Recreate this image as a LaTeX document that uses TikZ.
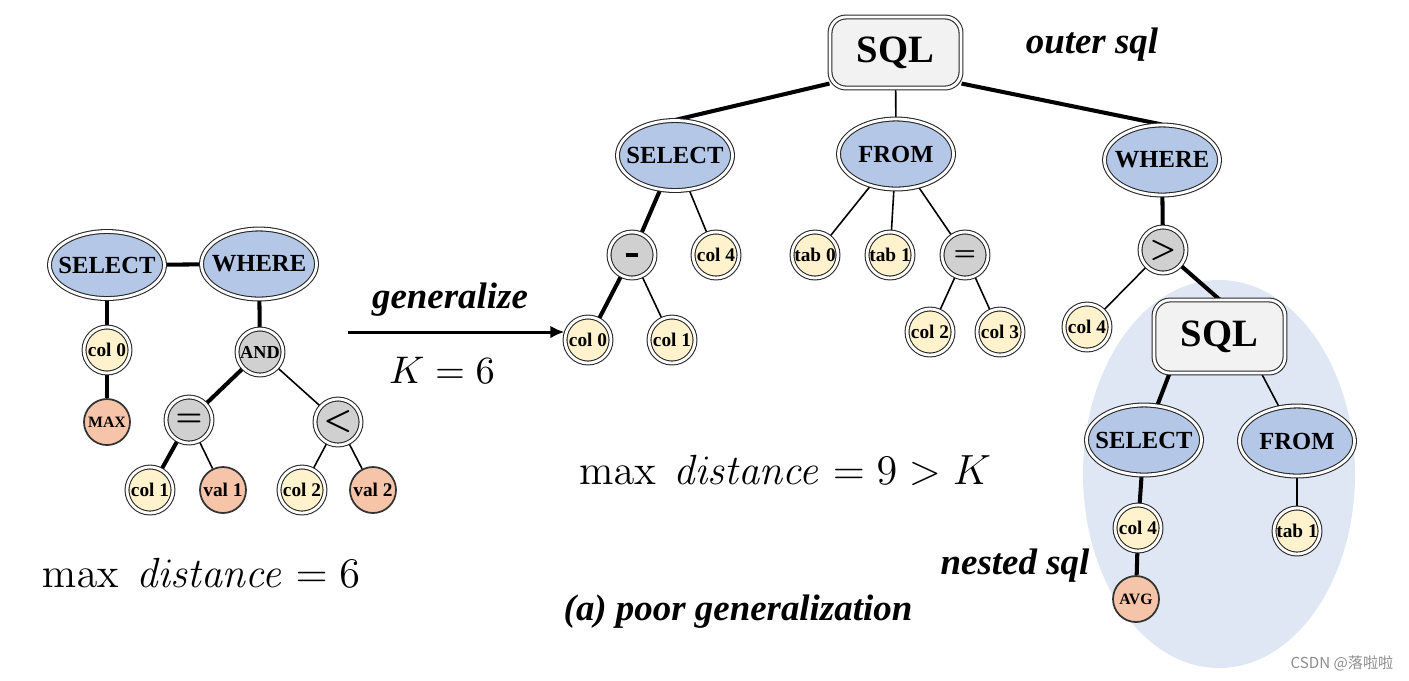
\documentclass[tikz,border=0pt]{standalone}
\usepackage[no-math]{fontspec}
\setmainfont{Liberation Serif}
\newfontfamily\cjk{Noto Sans CJK SC}
\usetikzlibrary{shapes.geometric,arrows.meta}
\pgfdeclarelayer{background}
\pgfsetlayers{background,main}

\definecolor{clauseblue}{RGB}{180,199,231}
\definecolor{colyellow}{RGB}{255,242,204}
\definecolor{valorange}{RGB}{246,196,168}
\definecolor{opgray}{RGB}{208,208,208}
\definecolor{boxgray}{RGB}{242,242,242}
\definecolor{nestblue}{RGB}{223,231,244}

\tikzset{
  dbl/.style={draw=black!85, line width=0.3pt, double=white, double distance=0.8pt},
  clause/.style={dbl, ellipse, fill=clauseblue, minimum width=1.15cm,
    minimum height=0.7cm, inner xsep=-1mm, inner ysep=0pt,
    font=\fontsize{7}{8}\selectfont\bfseries},
  leaf/.style={circle, minimum size=0.46cm, inner sep=0pt,
    font=\fontsize{5.5}{6}\selectfont\bfseries},
  colnode/.style={leaf, dbl, fill=colyellow},
  valnode/.style={leaf, draw=black!80, line width=0.5pt, fill=valorange},
  opnode/.style={leaf, dbl, fill=opgray},
  sqlbox/.style={dbl, rectangle, rounded corners=1.6mm, fill=boxgray,
    minimum width=1.31cm, minimum height=0.71cm,
    font=\fontsize{11}{12}\selectfont\bfseries},
  heavy/.style={line width=1.15pt},
  light/.style={line width=0.45pt},
  caption/.style={font=\fontsize{10.5}{12}\selectfont\bfseries\itshape},
  formula/.style={font=\fontsize{12}{14}\selectfont}
}

\begin{document}
\begin{tikzpicture}
\useasboundingbox (0, 0) rectangle (14.09, -6.80);

% left tree
\node[clause, minimum height=0.67cm] (lselect) at (1.07, -2.65) {SELECT};
\node[clause] (lwhere) at (2.59, -2.64) {WHERE};
\node[colnode] (lcol0) at (1.07, -3.50) {col 0};
\node[valnode, font=\fontsize{4.5}{5}\selectfont\bfseries] (lmax) at (1.07, -4.22) {MAX};
\node[opnode, font=\fontsize{5.2}{6}\selectfont\bfseries] (land) at (2.60, -3.52) {AND};
\node[opnode, font=\fontsize{8}{9}\selectfont\boldmath] (leq) at (1.89, -4.20) {$=$};
\node[opnode, font=\fontsize{9}{10}\selectfont\boldmath] (llt) at (3.38, -4.22) {$<$};
\node[colnode] (lcol1) at (1.50, -4.90) {col 1};
\node[valnode] (lval1) at (2.23, -4.90) {val 1};
\node[colnode] (lcol2) at (3.02, -4.90) {col 2};
\node[valnode] (lval2) at (3.73, -4.90) {val 2};

% outer sql
\node[sqlbox] (osql) at (8.955, -0.525) {SQL};
\node[clause] (mselect) at (6.75, -1.555) {SELECT};
\node[clause] (mfrom) at (8.96, -1.54) {FROM};
\node[clause] (rwhere) at (11.62, -1.60) {WHERE};
\node[opnode] (mminus) at (6.32, -2.55) {\rule{3.6pt}{1.3pt}};
\node[colnode] (mcol4) at (7.16, -2.55) {col 4};
\node[colnode] (mtab0) at (8.15, -2.55) {tab 0};
\node[colnode] (mtab1) at (8.90, -2.55) {tab 1};
\node[opnode, font=\fontsize{6}{7}\selectfont\boldmath] (meq) at (9.65, -2.55) {$=$};
\node[colnode] (mcol0) at (5.88, -3.40) {col 0};
\node[colnode] (mcol1) at (6.72, -3.40) {col 1};
\node[colnode] (mcol2) at (9.30, -3.32) {col 2};
\node[colnode] (mcol3) at (10.00, -3.32) {col 3};
\node[opnode, font=\fontsize{8.5}{9}\selectfont\boldmath] (rgt) at (11.63, -2.50) {$>$};
\node[colnode] (rcol4) at (10.87, -3.27) {col 4};

% nested sql
\node[sqlbox, minimum height=0.73cm] (isql) at (12.195, -3.365) {SQL};
\node[clause] (iselect) at (11.44, -4.40) {SELECT};
\node[clause] (ifrom) at (12.97, -4.41) {FROM};
\node[colnode] (icol4) at (11.38, -5.28) {col 4};
\node[valnode, font=\fontsize{4.5}{5}\selectfont\bfseries] (iavg) at (11.36, -5.99) {AVG};
\node[colnode] (itab1) at (12.97, -5.31) {tab 1};

\begin{pgfonlayer}{background}
\fill[nestblue] (12.19, -4.74) ellipse (1.36 and 1.94);

\draw[heavy] (lselect) -- (lwhere);
\draw[heavy] (lselect) -- (lcol0);
\draw[heavy] (lcol0) -- (lmax);
\draw[heavy] (lwhere) -- (land);
\draw[heavy] (land) -- (leq);
\draw[light] (land) -- (llt);
\draw[heavy] (leq) -- (lcol1);
\draw[light] (leq) -- (lval1);
\draw[light] (llt) -- (lcol2);
\draw[light] (llt) -- (lval2);

\draw[heavy] ([yshift=0.5mm]osql.south west) -- (mselect.north);
\draw[light] (osql) -- (mfrom);
\draw[heavy] ([yshift=0.5mm]osql.south east) -- (rwhere.north);
\draw[heavy] (mselect) -- (mminus);
\draw[light] (mselect) -- (mcol4);
\draw[heavy] (mminus) -- (mcol0);
\draw[light] (mminus) -- (mcol1);
\draw[light] (mfrom) -- (mtab0);
\draw[light] (mfrom) -- (mtab1);
\draw[light] (mfrom) -- (meq);
\draw[light] (meq) -- (mcol2);
\draw[light] (meq) -- (mcol3);
\draw[heavy] (rwhere) -- (rgt);
\draw[light] (rgt) -- (rcol4);
\draw[heavy] (rgt) -- (isql.north);

\draw[heavy] ([xshift=1.6mm]isql.south west) -- (iselect);
\draw[light] ([xshift=-2.4mm]isql.south east) -- (ifrom);
\draw[heavy] (iselect) -- (icol4);
\draw[heavy] (icol4) -- (iavg);
\draw[light] (ifrom) -- (itab1);
\end{pgfonlayer}

% generalize arrow
\coordinate (gstart) at (3.48, -3.32);
\draw[line width=0.85pt, -{Latex[length=4pt, width=3.6pt]}]
    (gstart) -- (gstart -| mcol0.west);
\node[caption] (glabel) at (4.50, -3.00) {generalize};
\node[formula, font=\fontsize{10.5}{12}\selectfont] (klabel) at (4.42, -3.70)
    {$K = 6$};

% labels
\node[formula] (ldist) at (2.01, -5.73) {$\max\ \mathit{distance} = 6$};
\node[formula] (mdist) at (7.85, -4.70) {$\max\ \mathit{distance} = 9 > K$};
\node[caption] (title) at (7.38, -6.12) {(a) poor generalization};
\node[caption] (outer) at (10.92, -0.45) {outer sql};
\node[caption] (nested) at (10.15, -5.66) {nested sql};
\node[anchor=east, inner sep=0pt, text=black!45, font=\cjk\fontsize{4.3}{5}\selectfont]
    (mark) at (13.94, -6.63) {CSDN @落啦啦};

\end{tikzpicture}
\end{document}
